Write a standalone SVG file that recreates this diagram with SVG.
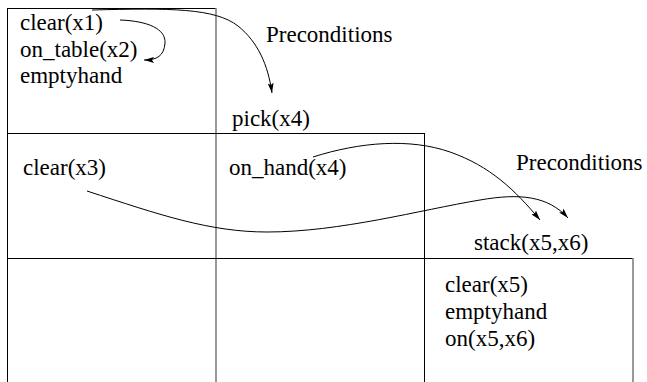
<svg xmlns="http://www.w3.org/2000/svg" width="647" height="382" viewBox="0 0 647 382">
  <style>
    text { font-family: 'Liberation Serif', 'Times New Roman', serif; font-size: 23px; fill: #000; }
    .rule { stroke: #000; stroke-width: 1; fill: none; }
    .rule-grey { stroke: #808080; stroke-width: 1.6; fill: none; }
    .link { stroke: #000; stroke-width: 1; fill: none; marker-end: url(#head); }
  </style>
  <defs>
    <marker id="head" viewBox="0 0 10 6" refX="10" refY="3" markerWidth="10" markerHeight="6" orient="auto" markerUnits="userSpaceOnUse">
      <path d="M0,0 L10,3 L0,6 L2,3 z" fill="#000"/>
    </marker>
  </defs>

  <!-- grid of state/action cells -->
  <g id="grid">
    <line class="rule" x1="7.5" y1="8" x2="7.5" y2="382"/>
    <line class="rule" x1="7" y1="8.5" x2="216" y2="8.5"/>
    <line class="rule-grey" x1="216" y1="8" x2="216" y2="382"/>
    <line class="rule" x1="7" y1="133.5" x2="424" y2="133.5"/>
    <line class="rule" x1="424.5" y1="133" x2="424.5" y2="382"/>
    <line class="rule" x1="7" y1="258.5" x2="633" y2="258.5"/>
    <line class="rule-grey" x1="633" y1="258" x2="633" y2="382"/>
  </g>

  <g id="state-initial">
    <text x="20" y="30">clear(x1)</text>
    <text x="20" y="57">on_table(x2)</text>
    <text x="20" y="83">emptyhand</text>
  </g>

  <g id="label-pre-1">
    <text x="266" y="42">Preconditions</text>
  </g>

  <g id="action-pick">
    <text x="232" y="126">pick(x4)</text>
  </g>

  <g id="state-clear-x3">
    <text x="23" y="175">clear(x3)</text>
  </g>

  <g id="state-on-hand">
    <text x="229" y="175">on_hand(x4)</text>
  </g>

  <g id="label-pre-2">
    <text x="516" y="170">Preconditions</text>
  </g>

  <g id="action-stack">
    <text x="474" y="250">stack(x5,x6)</text>
  </g>

  <g id="state-final">
    <text x="445" y="292">clear(x5)</text>
    <text x="445" y="319">emptyhand</text>
    <text x="445" y="346">on(x5,x6)</text>
  </g>

  <g id="connectors">
    <path class="link" d="M120,20 C148,21 166,29 165,43 C164,56 157,60 144,60"/>
    <path class="link" d="M92,10 C170,8 215,8 238,26 C258,42 268,65 272,93"/>
    <path class="link" d="M313,157 C360,142 410,138 450,152 C490,166 515,190 540,220"/>
    <path class="link" d="M87,191 C160,215 210,232 267,232 C340,232 420,210 480,200 C520,193 548,196 568,218"/>
  </g>
</svg>
